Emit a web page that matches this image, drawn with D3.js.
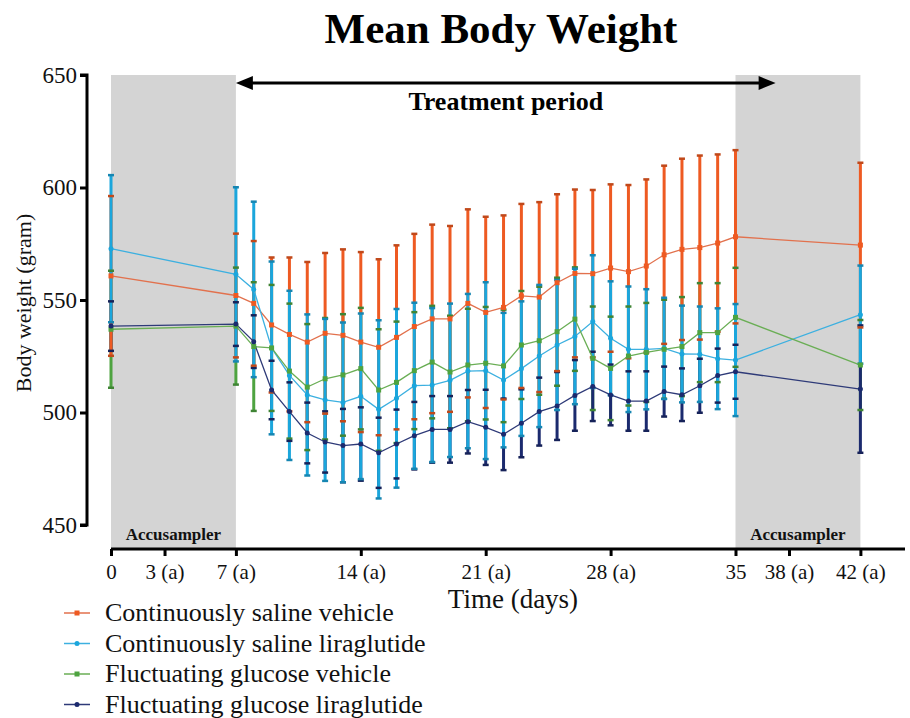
<!DOCTYPE html>
<html><head><meta charset="utf-8">
<script src="https://cdn.jsdelivr.net/npm/d3@7"></script>
<style>body{margin:0;background:#fff}svg{display:block}</style>
</head><body>
<svg id="chart" width="910" height="718"></svg>
<script>
// ---------- DATA ----------
const days = [0,7,8,9,10,11,12,13,14,15,16,17,18,19,20,21,22,23,24,25,26,27,28,29,30,31,32,33,34,35,42];

const salineVehicleMean = [560.7,552.0,548.5,538.9,534.7,531.3,535.2,534.3,531.3,529.0,533.4,538.2,541.6,541.6,548.5,544.5,546.7,551.8,551.3,557.7,561.8,561.7,564.2,562.6,565.1,570.1,572.5,573.3,575.3,578.1,574.4];
const salineVehicleSD   = [35.5,27.5,27.7,30.0,34.2,35.6,35.7,38.2,40.0,39.1,40.9,41.2,41.9,41.3,41.8,42.5,40.9,40.9,42.2,39.3,37.3,37.2,37.2,38.5,38.5,39.6,40.3,40.9,39.4,38.5,36.6];

const salineLiraMean = [572.8,561.4,554.7,528.7,516.5,507.8,505.6,504.5,507.2,501.4,506.3,511.9,512.2,514.3,518.4,518.6,514.4,519.5,525.1,530.0,533.8,540.4,533.0,528.1,528.1,528.5,526.0,525.9,523.9,523.3,543.5];
const salineLiraSD   = [32.7,38.7,39.0,38.4,37.6,35.8,36.0,35.5,36.8,39.6,39.7,36.9,34.2,34.1,34.3,39.3,29.9,29.9,31.6,28.9,30.1,29.5,25.3,27.9,26.7,22.5,21.5,21.2,22.4,24.9,21.8];

const glucoseVehicleMean = [537.0,538.4,529.3,528.7,518.4,511.3,515.0,516.7,519.5,510.0,513.4,518.6,522.4,518.0,521.1,521.9,520.7,530.0,531.9,535.9,541.5,524.1,519.6,525.1,526.7,528.1,529.3,535.5,535.5,542.3,521.1];
const glucoseVehicleSD   = [26,26,28.6,28,30,28,27,27,27,27,27,26,25,25,25,25,25,24,24,24,23,23,23,22,22,22,22,22,22,22,20];

const glucoseLiraMean = [538.4,539.3,531.5,510.0,500.4,490.9,486.9,485.3,486.0,482.1,486.0,489.7,492.5,492.5,495.9,493.4,490.3,495.2,500.4,502.9,507.6,511.6,507.8,505.1,505.1,509.3,507.9,511.9,516.4,518.1,510.4];
const glucoseLiraSD   = [11,9.7,11.7,13,13,13.5,13.6,16.3,16.3,15.6,15.3,15,14.8,14.8,14.1,16.7,15.9,15.1,15.1,15.1,15.7,15.4,13.5,13.2,13.2,11.1,11.7,12,12,12,28.3];

const seriesNames = ["Continuously saline vehicle","Continuously saline liraglutide","Fluctuating glucose vehicle","Fluctuating glucose liraglutide"];
const xTickValues = [0,3,7,14,21,28,35,38,42];
const xTickLabels = ["0","3 (a)","7 (a)","14 (a)","21 (a)","28 (a)","35","38 (a)","42 (a)"];
const yTickValues = [450,500,550,600,650];
const shadedPeriods = [[0,7],[35,42]];
const shadeLabel = "Accusampler";
const treatmentArrow = [7,37.25];
const treatmentLabel = "Treatment period";
const titleText = "Mean Body Weight";
const xTitle = "Time (days)";
const yTitle = "Body weight (gram)";

// ---------- STYLE ----------
const series = [
  {name:seriesNames[0], mean:salineVehicleMean, sd:salineVehicleSD, bar:"#ee5a22", line:"#e2714d", shape:"square"},
  {name:seriesNames[1], mean:salineLiraMean, sd:salineLiraSD, bar:"#1ba6dc", line:"#3cb0e0", shape:"circle"},
  {name:seriesNames[2], mean:glucoseVehicleMean, sd:glucoseVehicleSD, bar:"#4ea340", line:"#6aae55", shape:"square"},
  {name:seriesNames[3], mean:glucoseLiraMean, sd:glucoseLiraSD, bar:"#1b2a6e", line:"#2e3a78", shape:"circle"}
];
const barOrder = [2,3,0,1];
const font = "'Liberation Serif','Times New Roman',serif";

const svg = d3.select("#chart");
const x = d3.scaleLinear().domain([0,44.5]).range([111,905]);
const y = d3.scaleLinear().domain([450,650]).range([525,75]);
const xAxisY = 549;
const yAxisX = 87;

// shading
svg.append("g").selectAll("rect").data(shadedPeriods).join("rect")
  .attr("x",d=>x(d[0])).attr("width",d=>x(d[1])-x(d[0]))
  .attr("y",y(650)).attr("height",xAxisY-y(650)).attr("fill","#d4d4d4");
svg.append("g").selectAll("text").data(shadedPeriods).join("text")
  .attr("x",d=>(x(d[0])+x(d[1]))/2).attr("y",xAxisY-9)
  .attr("text-anchor","middle").attr("font-family",font).attr("font-weight","bold")
  .attr("font-size",17).attr("fill","#111").text(shadeLabel);

// treatment arrow
const ay = 83;
const ax0 = x(treatmentArrow[0]), ax1 = x(treatmentArrow[1]);
svg.append("line").attr("x1",ax0+8).attr("x2",ax1-8).attr("y1",ay).attr("y2",ay)
  .attr("stroke","#000").attr("stroke-width",3);
svg.append("path").attr("d",`M${ax0},${ay} L${ax0+17},${ay-7} L${ax0+17},${ay+7} Z`).attr("fill","#000");
svg.append("path").attr("d",`M${ax1},${ay} L${ax1-17},${ay-7} L${ax1-17},${ay+7} Z`).attr("fill","#000");
svg.append("text").attr("x",(ax0+ax1)/2).attr("y",110).attr("text-anchor","middle")
  .attr("font-family",font).attr("font-weight","bold").attr("font-size",26).text(treatmentLabel);

// error bars
const gBars = svg.append("g");
barOrder.forEach(i=>{
  const s = series[i];
  gBars.append("g").selectAll("line").data(days).join("line")
    .attr("x1",d=>x(d)).attr("x2",d=>x(d))
    .attr("y1",(d,j)=>y(s.mean[j]+s.sd[j])).attr("y2",(d,j)=>y(s.mean[j]-s.sd[j]))
    .attr("stroke",s.bar).attr("stroke-width",3);
});
// caps
barOrder.forEach(i=>{
  const s = series[i];
  const g = gBars.append("g");
  [1,-1].forEach(sign=>{
    g.append("g").selectAll("line").data(days).join("line")
      .attr("x1",d=>x(d)-3).attr("x2",d=>x(d)+3)
      .attr("y1",(d,j)=>y(s.mean[j]+sign*s.sd[j])).attr("y2",(d,j)=>y(s.mean[j]+sign*s.sd[j]))
      .attr("stroke",d3.color(s.bar).darker(0.6)).attr("stroke-width",2.5);
  });
});

// lines + markers
const lineGen = (s)=>d3.line().x((d,j)=>x(days[j])).y(d=>y(d))(s.mean);
series.forEach(s=>{
  svg.append("path").attr("d",lineGen(s)).attr("fill","none").attr("stroke",s.line).attr("stroke-width",1.3);
});
function marker(g, s, cx, cy, size){
  if(s.shape==="square"){
    g.append("rect").attr("x",cx-size/2).attr("y",cy-size/2).attr("width",size).attr("height",size).attr("fill",s.bar);
  } else {
    g.append("circle").attr("cx",cx).attr("cy",cy).attr("r",size/2).attr("fill",s.bar);
  }
}
series.forEach(s=>{
  const g = svg.append("g");
  days.forEach((d,j)=>marker(g,s,x(d),y(s.mean[j]),5));
});

// y axis
const yAxis = d3.axisLeft(y).tickValues(yTickValues).tickSize(7).tickPadding(3);
const gy = svg.append("g").attr("transform",`translate(${yAxisX},0)`).call(yAxis);
gy.select(".domain").attr("stroke","#000").attr("stroke-width",3).attr("d",`M-7,${y(650)}H0V${y(450)}H-7`);
gy.selectAll(".tick line").attr("stroke","#000").attr("stroke-width",3);
gy.selectAll(".tick text").attr("font-family",font).attr("font-size",23).attr("fill","#111");

// x axis
const xAxis = d3.axisBottom(x).tickValues(xTickValues).tickFormat((d,i)=>xTickLabels[i]).tickSize(7).tickPadding(8);
const gx = svg.append("g").attr("transform",`translate(0,${xAxisY})`).call(xAxis);
gx.select(".domain").attr("stroke","#000").attr("stroke-width",3).attr("d",`M${x(0)},0H${x(44.5)}`);
gx.selectAll(".tick line").attr("stroke","#000").attr("stroke-width",3);
gx.selectAll(".tick text").attr("font-family",font).attr("font-size",21).attr("fill","#111");

// titles
svg.append("text").attr("x",501).attr("y",43).attr("text-anchor","middle")
  .attr("font-family",font).attr("font-weight","bold").attr("font-size",43).text(titleText);
svg.append("text").attr("x",513).attr("y",608).attr("text-anchor","middle")
  .attr("font-family",font).attr("font-size",27).attr("fill","#111").text(xTitle);
svg.append("text").attr("transform",`translate(31,303) rotate(-90)`).attr("text-anchor","middle")
  .attr("font-family",font).attr("font-size",22).attr("fill","#111").text(yTitle);

// legend
const leg = svg.append("g");
series.forEach((s,i)=>{
  const ly = 613 + i*30.5;
  const g = leg.append("g");
  g.append("line").attr("x1",64).attr("x2",90).attr("y1",ly).attr("y2",ly).attr("stroke",s.line).attr("stroke-width",1.5);
  marker(g,s,77,ly,5);
  g.append("text").attr("x",105).attr("y",ly+8).attr("font-family",font).attr("font-size",26).attr("fill","#111").text(s.name);
});
</script>
</body></html>
